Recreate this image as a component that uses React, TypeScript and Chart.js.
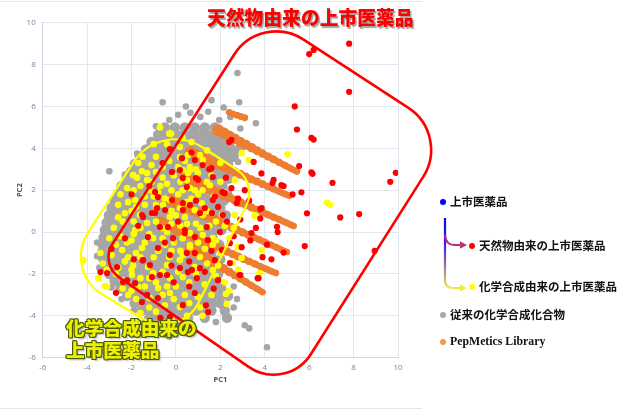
import { useEffect, useRef } from 'react';
import Chart from 'chart.js/auto';

const AXIS_MIN = -6;
const AXIS_MAX = 10;
const AXIS_STEP = 2;

// conventional compounds: dense rows of the cloud [y, xs] plus loose points
const GRAY_ROWS: [number, number[]][] = [
  [5.0, [-0.5, -0.05, 0.4, 0.85, 1.3, 1.75]],
  [4.65, [-0.8, -0.42, 0.0, 0.33, 0.72, 1.05, 1.42, 1.8, 2.2]],
  [4.3, [-1.1, -0.75, -0.38, -0.05, 0.3, 0.66, 1.0, 1.36, 1.7, 2.06, 2.42]],
  [3.95, [-1.35, -1.0, -0.63, -0.3, 0.06, 0.4, 0.76, 1.1, 1.46, 1.8, 2.15, 2.5, 2.85]],
  [3.6, [-1.62, -1.25, -0.9, -0.55, -0.2, 0.15, 0.5, 0.86, 1.2, 1.55, 1.9, 2.26, 2.6]],
  [3.25, [-1.85, -1.5, -1.15, -0.8, -0.44, -0.1, 0.26, 0.6, 0.95, 1.3, 1.65, 2.0, 2.35]],
  [2.9, [-2.02, -1.66, -1.3, -0.95, -0.6, -0.25, 0.1, 0.45, 0.8, 1.15, 1.5, 1.85, 2.2]],
  [2.55, [-2.22, -1.85, -1.5, -1.15, -0.8, -0.45, -0.1, 0.25, 0.6, 0.95, 1.3, 1.66, 2.0, 2.36]],
  [2.2, [-2.45, -2.1, -1.75, -1.4, -1.05, -0.7, -0.35, 0.0, 0.35, 0.7, 1.05, 1.4, 1.75, 2.1]],
  [1.85, [-2.6, -2.25, -1.9, -1.55, -1.2, -0.85, -0.5, -0.15, 0.2, 0.55, 0.9, 1.25, 1.6, 1.95, 2.3]],
  [1.5, [-2.76, -2.4, -2.05, -1.7, -1.35, -1.0, -0.65, -0.3, 0.05, 0.4, 0.75, 1.1, 1.45, 1.8, 2.15]],
  [1.15, [-2.9, -2.55, -2.2, -1.85, -1.5, -1.15, -0.8, -0.45, -0.1, 0.25, 0.6, 0.95, 1.3, 1.65, 2.0]],
  [0.8, [-3.02, -2.65, -2.3, -1.95, -1.6, -1.25, -0.9, -0.55, -0.2, 0.15, 0.5, 0.85, 1.2, 1.55, 1.9, 2.25]],
  [0.45, [-3.12, -2.75, -2.4, -2.05, -1.7, -1.35, -1.0, -0.65, -0.3, 0.05, 0.4, 0.75, 1.1, 1.45, 1.8]],
  [0.1, [-3.2, -2.85, -2.5, -2.15, -1.8, -1.45, -1.1, -0.75, -0.4, -0.05, 0.3, 0.65, 1.0, 1.35, 1.7, 2.05]],
  [-0.25, [-3.26, -2.9, -2.55, -2.2, -1.85, -1.5, -1.15, -0.8, -0.45, -0.1, 0.25, 0.6, 0.95, 1.3, 1.65]],
  [-0.6, [-3.3, -2.95, -2.6, -2.25, -1.9, -1.55, -1.2, -0.85, -0.5, -0.15, 0.2, 0.55, 0.9, 1.25, 1.6, 1.95]],
  [-0.95, [-3.32, -2.96, -2.6, -2.25, -1.9, -1.55, -1.2, -0.85, -0.5, -0.15, 0.2, 0.55, 0.9, 1.25, 1.6]],
  [-1.3, [-3.26, -2.9, -2.55, -2.2, -1.85, -1.5, -1.15, -0.8, -0.45, -0.1, 0.25, 0.6, 0.95, 1.3, 1.65, 2.0]],
  [-1.65, [-3.16, -2.8, -2.45, -2.1, -1.75, -1.4, -1.05, -0.7, -0.35, 0.0, 0.35, 0.7, 1.05, 1.4]],
  [-2.0, [-3.0, -2.65, -2.3, -1.95, -1.6, -1.25, -0.9, -0.55, -0.2, 0.15, 0.5, 0.85, 1.2, 1.55, 1.9]],
  [-2.35, [-2.76, -2.4, -2.05, -1.7, -1.35, -1.0, -0.65, -0.3, 0.05, 0.4, 0.75, 1.1, 1.45, 1.8]],
  [-2.7, [-2.5, -2.15, -1.8, -1.45, -1.1, -0.75, -0.4, -0.05, 0.3, 0.65, 1.0, 1.35, 1.7, 2.05]],
  [-3.05, [-2.2, -1.85, -1.5, -1.15, -0.8, -0.45, -0.1, 0.25, 0.6, 0.95, 1.3, 1.65, 2.0, 2.35]],
  [-3.4, [-1.86, -1.5, -1.15, -0.8, -0.45, -0.1, 0.25, 0.6, 0.95, 1.3, 1.65, 2.0]],
  [-3.75, [-1.55, -1.2, -0.85, -0.5, -0.15, 0.2, 0.55, 0.9, 1.25, 1.6, 2.2]],
  [-4.1, [-1.2, -0.85, -0.5, -0.15, 0.2, 0.55, 1.3, 2.3]],
  [-4.45, [-0.76, -0.4, -0.05, 0.3]],
  [-4.8, [-0.45, -0.1]],
];

const GRAY_LOOSE: number[][] = [
  [-0.6, 6.2], [2.77, 7.6], [1.6, 6.3], [2.85, 6.2], [2.15, 5.95], [0.1, 5.6], [0.65, 5.7], [1.1, 5.5],
  [-0.3, 5.35], [3.6, 5.2], [1.95, 5.35], [-3.0, 2.9], [-3.55, -0.5], [4.1, -5.5], [3.3, -4.6], [3.1, -4.45],
  [2.6, -3.6], [-0.9, 5.05], [2.45, 5.5], [0.45, 6.0], [1.45, 5.75], [2.9, 4.95], [-1.75, 3.75], [-2.3, 2.75],
  [-3.45, -1.7], [-3.55, -1.15], [-2.9, -2.65], [-2.45, -3.2], [-1.9, -3.75], [-1.4, -4.25], [-0.95, -4.6],
  [-0.3, -5.0], [0.7, -4.5], [1.8, -4.3], [2.3, -4.05], [2.75, -3.2], [2.6, -2.6], [2.4, 3.8], [2.8, 3.35],
];

// PepMetics library: diagonal streaks
const ORANGE_BANDS: number[][][] = [
  [[1.9, 4.86], [2.15, 4.73], [2.4, 4.59], [2.65, 4.45], [2.9, 4.31], [3.15, 4.17], [3.4, 4.03], [3.65, 3.89],
    [3.9, 3.75], [4.15, 3.61], [4.4, 3.47], [4.65, 3.33], [4.9, 3.19], [5.15, 3.05], [5.45, 2.89]],
  [[0.65, 3.81], [0.9, 3.69], [1.15, 3.58], [1.4, 3.46], [1.65, 3.34], [1.9, 3.23], [2.15, 3.11], [2.4, 2.99],
    [2.65, 2.87], [2.9, 2.76], [3.15, 2.64], [3.4, 2.52], [3.65, 2.41], [3.9, 2.29], [4.15, 2.17], [4.4, 2.06],
    [4.65, 1.94], [4.9, 1.82], [5.1, 1.73]],
  [[0.4, 2.58], [0.65, 2.46], [0.9, 2.35], [1.15, 2.23], [1.4, 2.11], [1.65, 2.0], [1.9, 1.88], [2.15, 1.76],
    [2.4, 1.65], [2.65, 1.53], [2.9, 1.41], [3.15, 1.3], [3.4, 1.18], [3.65, 1.06], [3.9, 0.95], [4.15, 0.83],
    [4.4, 0.71], [4.65, 0.6], [4.9, 0.48], [5.15, 0.36], [5.3, 0.29]],
  [[-0.25, 1.52], [0.0, 1.4], [0.25, 1.29], [0.5, 1.17], [0.75, 1.05], [1.0, 0.93], [1.25, 0.81], [1.5, 0.7],
    [1.75, 0.58], [2.0, 0.46], [2.25, 0.34], [2.5, 0.23], [2.75, 0.11], [3.0, -0.01], [3.25, -0.13], [3.5, -0.25],
    [3.75, -0.36], [4.0, -0.48], [4.25, -0.6], [4.5, -0.72], [4.75, -0.84], [5.0, -0.95]],
  [[-0.7, 0.47], [-0.45, 0.35], [-0.2, 0.24], [0.05, 0.12], [0.3, 0.0], [0.55, -0.11], [0.8, -0.23], [1.05, -0.35],
    [1.3, -0.47], [1.55, -0.58], [1.8, -0.7], [2.05, -0.82], [2.3, -0.93], [2.55, -1.05], [2.8, -1.17], [3.05, -1.29],
    [3.3, -1.4], [3.55, -1.52], [3.8, -1.64], [4.05, -1.75], [4.3, -1.87], [4.5, -1.96]],
  [[0.65, -0.77], [0.9, -0.93], [1.15, -1.1], [1.4, -1.26], [1.65, -1.42], [1.9, -1.58], [2.15, -1.74], [2.4, -1.9],
    [2.65, -2.06], [2.9, -2.22], [3.15, -2.38], [3.4, -2.55], [3.65, -2.71], [3.9, -2.87]],
];
const ORANGE_LOOSE: number[][] = [[2.4, 5.72], [2.56, 5.65], [2.75, 5.58], [2.92, 5.52], [3.1, 5.46]];

// marketed drugs of synthetic origin
const YELLOW_PTS: number[][] = [
  [-0.72, 5.0], [-0.22, 4.7], [0.18, 4.06], [-1.53, 2.9], [-1.75, 2.6], [-1.3, 2.48], [-0.9, 2.87], [-0.4, 2.3],
  [0.1, 3.1], [0.55, 2.82], [0.63, 2.1], [-1.17, 2.0], [-1.84, 1.53], [-2.15, 1.43], [-0.27, 1.53], [0.18, 1.15],
  [-1.03, 0.9], [-1.62, 0.81], [-0.58, 1.29], [0.4, 0.72], [-4.17, -1.34], [-3.4, -1.0], [-3.2, -2.58],
  [-2.42, -0.86], [-2.15, -1.2], [-1.98, -2.05], [-1.7, -2.63], [-2.15, -3.0], [-1.17, -3.15], [-1.6, -3.87],
  [-0.8, -2.67], [-0.27, -2.2], [-1.53, -0.76], [-1.03, -0.29], [-1.84, 0.1], [-1.3, 0.43], [-0.63, 0.19],
  [-0.27, 0.72], [0.4, 0.1], [0.63, -0.72], [0.18, -1.34], [-0.4, -1.58], [-1.26, -1.67], [-0.27, -2.91],
  [-1.03, -1.96], [-1.93, -1.58], [0.31, 1.38], [1.21, 0.81], [2.07, 0.81], [2.65, 0.81], [3.55, 0.81],
  [0.63, -0.05], [1.21, -0.14], [1.66, -0.29], [1.66, -0.62], [0.63, -0.62], [0.31, -1.1], [1.08, -1.19],
  [1.66, -1.81], [0.85, -1.67], [3.86, -0.86], [3.77, -1.96], [2.25, -2.96], [2.29, -3.44], [0.31, -2.15],
  [0.99, -3.1], [0.18, -3.58], [2.96, -1.24], [2.56, -1.48], [2.78, -0.72], [0.54, 3.68], [1.21, 3.44],
  [0.63, 2.96], [0.99, 2.82], [0.49, 2.48], [1.39, 2.39], [0.85, 2.0], [0.49, 1.43], [1.17, 1.38], [2.65, 2.48],
  [2.96, 3.77], [3.28, 3.44], [5.03, 3.72], [3.55, 0.76], [0.31, 2.96], [0.85, 1.05], [-1.7, 3.3], [-1.93, 2.72],
  [-1.3, 2.82], [0.18, 3.58], [1.08, 3.68], [0.63, 3.1], [1.53, 2.24], [6.8, 1.4], [6.95, 1.3], [-3.1, -2.6],
  [-1.0, 1.7], [-0.6, 2.6], [0.9, 0.4], [1.5, 0.3], [-0.1, -0.5], [-0.8, -0.9], [-2.4, -2.3], [-2.6, -1.7],
  [-2.8, 0.2], [-2.3, 0.9], [-1.9, 0.5], [-2.5, 1.8], [-0.5, -3.5], [0.6, -2.4], [1.3, -2.5], [1.8, -2.1],
  [1.7, 1.7], [2.2, 1.9], [2.0, -1.0], [2.4, -0.3], [-0.9, 3.6], [-0.4, 4.2], [0.7, 4.3], [-1.2, -2.2],
  [-0.6, -1.9], [0.0, -2.6], [1.1, -3.6], [0.5, -4.0], [-0.2, -4.2], [-3.0, -0.3], [-2.0, -0.4], [-2.5, -0.2],
  [-0.2, 0.4], [-0.5, -0.6], [0.2, 0.3], [1.0, -0.5], [-1.4, 1.3], [-0.8, 1.9], [-0.2, 2.0], [0.2, 2.4],
  [-1.6, -1.2], [-2.0, -2.8], [-0.9, -3.8], [-2.7, -2.0], [-3.3, -1.5],
  [-1.6, 2.2], [-1.9, 2.0], [-2.2, 2.1], [-1.4, 1.7], [-1.1, 2.4], [-0.7, 2.2], [-0.1, 2.7], [0.3, 2.0],
  [-0.5, 1.6], [-2.0, 1.0], [-2.6, 1.3], [-2.4, 0.5], [-1.6, 0.2], [-1.2, -0.1], [-0.9, 0.5], [-0.4, 0.0],
  [0.0, 0.8], [0.7, 1.6], [1.0, 1.8], [1.4, 1.0], [1.8, 0.5], [2.2, 0.3], [1.3, -0.8], [0.2, -0.9],
  [-0.3, -1.2], [-1.0, -1.2], [-1.8, -1.0], [-2.3, -1.4], [-2.9, -1.1], [-2.7, -0.6], [-2.2, -0.5], [-1.4, -0.5],
  [-0.6, -0.3], [0.1, -1.9], [-0.9, -2.4], [-1.4, -2.6], [-1.8, -3.2], [-2.4, -2.7], [-0.4, -2.6], [0.4, -3.0],
  [0.9, -2.0], [1.4, -1.5], [1.9, -1.6], [2.2, -2.4], [1.6, -3.0], [0.6, -3.4], [-0.1, -3.2], [-0.6, -3.0],
  [-1.2, -3.6], [-0.3, 3.4], [-0.6, 3.1], [-1.1, 3.2], [0.4, 3.4], [0.9, 3.0], [1.6, 2.7], [2.0, 2.4],
  [1.2, 2.0], [0.1, 1.8], [-0.9, 1.3], [-1.8, 1.2], [-3.1, -1.8], [-3.5, -2.2], [-2.0, -1.8], [-1.6, -2.2],
  [-0.2, 1.0], [0.5, 0.4], [1.1, 0.2], [0.3, -0.3], [-0.2, -0.9], [-1.9, -0.1], [-2.6, 0.7], [-1.5, 3.6],
  [-1.0, 4.2], [-0.3, 4.7], [0.3, 4.5], [1.4, 3.9], [2.0, 3.3], [1.8, -0.4], [2.6, 0.2], [2.8, -1.8],
  [2.4, -2.8], [1.2, -4.0],
];

// marketed drugs of natural origin
const RED_PTS: number[][] = [
  [7.8, 9.0], [6.0, 8.5], [6.2, 8.7], [7.8, 6.7], [5.35, 6.0], [5.45, 4.9], [6.1, 4.5], [6.2, 4.42], [5.55, 3.15],
  [6.1, 2.85], [6.15, 2.78], [7.05, 2.35], [9.65, 2.4], [9.9, 2.83], [5.65, 1.9], [5.25, 1.8], [3.85, 2.8],
  [2.4, 4.3], [5.9, 0.9], [7.4, 0.7], [8.25, 0.86], [8.95, -0.9], [5.8, -0.67], [4.55, 0.25], [4.58, 0.0],
  [4.85, -0.98], [4.3, -1.3], [3.72, -2.2], [3.35, -0.4], [3.8, 0.65], [1.35, -3.5], [1.45, -3.82], [2.9, -2.05],
  [1.9, -2.3], [3.5, 3.35], [4.4, 2.5], [2.25, 2.6], [4.85, 2.2], [3.8, 1.1], [2.8, 1.6], [1.75, 1.7], [1.5, 3.0],
  [1.0, 2.5], [0.85, 3.44], [1.66, 1.53], [2.2, 1.86], [2.74, 1.38], [1.3, 1.15], [3.86, 1.15], [0.49, 2.15],
  [3.4, -0.05], [4.35, 2.34], [4.75, 2.24], [1.66, 2.63], [2.1, 1.91], [1.6, 3.05], [2.5, 4.4],
  [-0.27, 3.96], [0.27, 3.53], [-0.18, 2.87], [0.18, 2.96], [0.31, 2.58], [0.9, 2.58], [-0.94, 1.91],
  [-0.81, 1.67], [-0.18, 1.53], [0.31, 1.38], [0.63, 1.29], [-0.49, 1.05], [-0.85, 1.15], [-1.08, 0.91],
  [-1.53, 0.81], [-3.4, -1.91], [-3.1, -1.96], [-2.65, -1.67], [-2.38, -2.39], [-1.84, -2.44], [-1.48, -1.34],
  [-1.17, -1.58], [-0.72, -2.05], [-0.4, -2.05], [-1.08, -2.15], [0.18, -1.72], [0.54, -1.91], [-0.27, -1.1],
  [-0.81, -0.76], [-1.26, -0.24], [-0.36, 0.24], [-0.13, -0.29], [0.4, -0.05], [0.49, -1.0], [-0.72, 0.24],
  [-1.48, 0.72], [-0.94, 0.91], [-0.81, -3.15], [-1.53, -3.34], [0.85, -2.91], [-0.27, -4.06], [0.94, -2.2],
  [0.31, 1.05], [1.08, 0.91], [1.62, 0.91], [2.11, 0.81], [1.39, 0.24], [0.85, -0.24], [1.44, -0.38], [1.98, 0.0],
  [0.4, 0.1], [2.43, -0.53], [2.96, -0.72], [2.07, -0.86], [0.85, -1.0], [1.75, -1.34], [2.43, -1.48],
  [1.08, -1.72], [0.72, -1.81], [1.89, -2.29], [2.87, -2.05], [3.68, -2.2], [0.31, -3.49], [-2.2, -2.3],
  [-1.3, -3.0], [-0.7, -4.1], [-1.5, -1.35],
  [0.7, 3.8], [1.2, 3.2], [-0.6, 3.3], [-1.2, 2.2], [-2.0, 1.8], [-1.7, 0.3], [-2.3, -0.3], [-2.9, -0.8],
  [-0.2, -1.6], [0.6, -1.4], [1.3, -1.9], [1.6, -0.9], [2.3, 0.5], [2.6, -0.2], [0.1, 0.5], [-0.5, -0.5],
  [-1.9, -1.3], [-2.7, -2.9], [-0.1, -2.4], [0.6, -2.6], [1.7, -2.7], [0.9, 1.5], [1.9, 1.2], [2.5, 2.1],
  [3.1, 2.0], [3.3, 1.5], [2.9, 0.6], [3.6, 0.2], [3.9, -1.2], [4.1, -0.6],
];

// outlined regions, corners in data units (left, top, right, bottom)
const RED_ZONE: number[][] = [[-3.43, -1.52], [3.85, 10.51], [12.33, 4.64], [4.97, -7.68]];
const YELLOW_ZONE: number[][] = [[-5.07, -1.86], [-0.69, 5.35], [3.67, 2.34], [0.17, -5.2]];

const TITLE_NATURAL = '天然物由来の上市医薬品';
const CALLOUT_SYNTH = ['化学合成由来の', '上市医薬品'];
const LEGEND_TOP = '上市医薬品';
const LEGEND_NATURAL = '天然物由来の上市医薬品';
const LEGEND_SYNTH = '化学合成由来の上市医薬品';
const LEGEND_GRAY = '従来の化学合成化合物';
const LEGEND_ORANGE = 'PepMetics Library';

const xy = (pts: number[][]) => pts.map(([x, y]) => ({ x, y }));
const grayCore = GRAY_ROWS.flatMap(([y, xs]) => xs.map((x) => ({ x, y })));

const roundedZone = (ctx: CanvasRenderingContext2D, pts: number[][], radii: number[]) => {
  const n = pts.length;
  ctx.beginPath();
  ctx.moveTo((pts[n - 1][0] + pts[0][0]) / 2, (pts[n - 1][1] + pts[0][1]) / 2);
  for (let i = 0; i < n; i++) {
    const a = pts[i];
    const b = pts[(i + 1) % n];
    ctx.arcTo(a[0], a[1], b[0], b[1], radii[i]);
  }
  ctx.closePath();
};

const zonePlugin = {
  id: 'zones',
  afterDatasetsDraw(chart: any) {
    const { ctx, scales } = chart;
    const toPx = (p: number[]) => [scales.x.getPixelForValue(p[0]), scales.y.getPixelForValue(p[1])];
    ctx.save();
    roundedZone(ctx, YELLOW_ZONE.map(toPx), [44, 50, 28, 40]);
    ctx.strokeStyle = '#ffff00';
    ctx.lineWidth = 2.2;
    ctx.stroke();
    roundedZone(ctx, RED_ZONE.map(toPx), [24, 50, 50, 44]);
    ctx.strokeStyle = '#ff0000';
    ctx.lineWidth = 2.6;
    ctx.stroke();
    ctx.restore();
  },
};

const tickFont = { family: "'Open Sans', sans-serif", size: 8 };
const titleFont = { family: "'Open Sans', sans-serif", size: 7.5, weight: 'bold' as const };
const ORANGE = '#ed7d31';

const ScatterChart = () => {
  const canvasRef = useRef<HTMLCanvasElement>(null);

  useEffect(() => {
    if (!canvasRef.current) return;
    const taper = (len: number) => (c: any) => 6.0 - (3.0 * c.dataIndex) / (len - 1);
    const chart = new Chart(canvasRef.current, {
      type: 'scatter',
      data: {
        datasets: [
          { data: xy(RED_PTS), backgroundColor: '#ff0000', pointRadius: 3.1, order: 0 },
          { data: xy(YELLOW_PTS), backgroundColor: '#ffff00', pointRadius: 3.3, order: 1 },
          ...ORANGE_BANDS.map((band) => ({
            data: xy(band),
            backgroundColor: ORANGE,
            borderColor: ORANGE,
            borderWidth: 6.5,
            borderCapStyle: 'round' as const,
            showLine: true,
            pointRadius: taper(band.length),
            order: 2,
          })),
          { data: xy(ORANGE_LOOSE), backgroundColor: ORANGE, pointRadius: 3.4, order: 2 },
          { data: xy(GRAY_LOOSE), backgroundColor: '#a5a5a5', pointRadius: 3.3, order: 3 },
          { data: grayCore, backgroundColor: '#a5a5a5', pointRadius: 5.2, order: 3 },
        ].map((d) => ({ ...d, pointBorderWidth: 0, pointHoverRadius: 0 })),
      },
      options: {
        animation: false,
        responsive: true,
        maintainAspectRatio: false,
        layout: { padding: { left: 11, top: 22.7, right: 242, bottom: 21.2 } },
        plugins: { legend: { display: false }, tooltip: { enabled: false } },
        scales: {
          x: {
            type: 'linear',
            min: AXIS_MIN,
            max: AXIS_MAX,
            afterFit: (s: any) => { s.height = 31.1; },
            ticks: { stepSize: AXIS_STEP, padding: 5, font: tickFont, color: '#7b8595' },
            grid: { color: '#e2e7ef', drawTicks: false },
            border: { color: '#d0d7e2' },
            title: { display: true, text: 'PC1', font: titleFont, color: '#46526a', padding: { top: 0, bottom: 4 } },
          },
          y: {
            type: 'linear',
            min: AXIS_MIN,
            max: AXIS_MAX,
            afterFit: (s: any) => { s.width = 31.7; },
            ticks: { stepSize: AXIS_STEP, padding: 7, font: tickFont, color: '#7b8595' },
            grid: { color: '#e2e7ef', drawTicks: false },
            border: { color: '#d0d7e2' },
            title: { display: true, text: 'PC2', font: titleFont, color: '#46526a', padding: { top: 4, bottom: 0 } },
          },
        },
      },
      plugins: [zonePlugin],
    });
    return () => chart.destroy();
  }, []);

  return <canvas ref={canvasRef} />;
};

const jp = "'Noto Sans CJK JP', 'Noto Sans', sans-serif";

const Dot = ({ cx, cy, color }: { cx: number; cy: number; color: string }) => (
  <div style={{ position: 'absolute', left: cx - 3.2, top: cy - 3.2, width: 6.4, height: 6.4, borderRadius: '50%', background: color }} />
);

const Label = ({ x, cy, text, serif }: { x: number; cy: number; text: string; serif?: boolean }) => (
  <div
    style={{
      position: 'absolute',
      left: x,
      top: cy - (serif ? 6.0 : 6.4),
      fontFamily: serif ? "'Liberation Serif', serif" : jp,
      fontWeight: 700,
      fontSize: serif ? 11.8 : 11.5,
      lineHeight: 1,
      color: '#111',
      whiteSpace: 'nowrap',
    }}
  >
    {text}
  </div>
);

const outline = '#4a5c00';

export default function App() {
  return (
    <div style={{ position: 'fixed', left: 0, top: 0, width: 640, height: 410, background: '#fff', overflow: 'hidden' }}>
      <div style={{ position: 'absolute', left: 0, top: 1, width: 422, height: 1, background: '#e6e6e6' }} />
      <div style={{ position: 'absolute', left: 0, top: 408, width: 422, height: 1, background: '#e6e6e6' }} />
      <div style={{ position: 'absolute', left: 0, top: 0, width: 640, height: 410 }}>
        <ScatterChart />
      </div>
      <div
        style={{
          position: 'absolute', left: 207, top: 7.6, fontFamily: jp, fontWeight: 900, fontSize: 18.8, lineHeight: 1,
          color: '#ff0000', whiteSpace: 'nowrap', textShadow: '1.5px 1.5px 1px rgba(90,90,90,0.55)',
        }}
      >
        {TITLE_NATURAL}
      </div>
      <div
        style={{
          position: 'absolute', left: 66, top: 316.4, fontFamily: jp, fontWeight: 900, fontSize: 18.7, lineHeight: '21.5px',
          color: '#eef000', whiteSpace: 'nowrap',
          textShadow: `-1px -1px 0 ${outline}, 1px -1px 0 ${outline}, -1px 1px 0 ${outline}, 1px 1px 0 ${outline}, 0 -1px 0 ${outline}, 0 1px 0 ${outline}, -1px 0 0 ${outline}, 1px 0 0 ${outline}, 2px 2px 2px rgba(0,0,0,0.35)`,
        }}
      >
        {CALLOUT_SYNTH.map((t) => <div key={t}>{t}</div>)}
      </div>

      <svg width={640} height={410} style={{ position: 'absolute', left: 0, top: 0, pointerEvents: 'none' }}>
        <defs>
          <linearGradient id="stem" x1="0" y1="218" x2="0" y2="290" gradientUnits="userSpaceOnUse">
            <stop offset="0" stopColor="#0000ff" />
            <stop offset="0.35" stopColor="#3a1ee0" />
            <stop offset="0.6" stopColor="#8a5aa8" />
            <stop offset="1" stopColor="#f4f048" />
          </linearGradient>
        </defs>
        <path d="M445 218 L445 280 Q445 288 453 288 L461 288" fill="none" stroke="url(#stem)" strokeWidth={2.2} />
        <path d="M445 235 Q446 245 454 245 L461 245" fill="none" stroke="#b3307a" strokeWidth={2.2} />
        <polygon points="460,241.3 467,245 460,248.7" fill="#b3307a" />
        <polygon points="460,284.3 467,288 460,291.7" fill="#f0ee44" />
      </svg>

      <Dot cx={443} cy={202} color="#0000ff" />
      <Label x={450} cy={202} text={LEGEND_TOP} />
      <Dot cx={472} cy={246} color="#ff0000" />
      <Label x={479} cy={246} text={LEGEND_NATURAL} />
      <Dot cx={472} cy={287} color="#ffff00" />
      <Label x={479} cy={287} text={LEGEND_SYNTH} />
      <Dot cx={443} cy={315} color="#a8a8a8" />
      <Label x={450} cy={315} text={LEGEND_GRAY} />
      <Dot cx={443} cy={342} color="#f39a4a" />
      <Label x={450} cy={342} text={LEGEND_ORANGE} serif />
    </div>
  );
}
